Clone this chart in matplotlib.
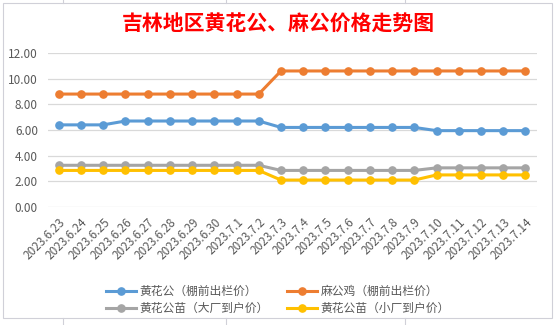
import matplotlib.pyplot as plt
from matplotlib.lines import Line2D
from matplotlib.patches import Rectangle

plt.rcParams['font.family'] = ['Noto Sans CJK SC', 'DejaVu Sans']

# 日期
dates = ['2023.6.23', '2023.6.24', '2023.6.25', '2023.6.26', '2023.6.27', '2023.6.28',
         '2023.6.29', '2023.6.30', '2023.7.1', '2023.7.2', '2023.7.3', '2023.7.4',
         '2023.7.5', '2023.7.6', '2023.7.7', '2023.7.8', '2023.7.9', '2023.7.10',
         '2023.7.11', '2023.7.12', '2023.7.13', '2023.7.14']

# 价格数据
huang_chulan = [6.4, 6.4, 6.4, 6.7, 6.7, 6.7, 6.7, 6.7, 6.7, 6.7, 6.2,
                6.2, 6.2, 6.2, 6.2, 6.2, 6.2, 5.95, 5.95, 5.95, 5.95, 5.95]
ma_chulan = [8.8] * 10 + [10.6] * 12
miao_dachang = [3.25] * 10 + [2.85] * 7 + [3.05] * 5
miao_xiaochang = [2.85] * 10 + [2.1] * 7 + [2.5] * 5

names = ['黄花公（棚前出栏价）', '麻公鸡（棚前出栏价）',
         '黄花公苗（大厂到户价）', '黄花公苗（小厂到户价）']
colors = ['#5B9BD5', '#ED7D31', '#A5A5A5', '#FFC000']

fig = plt.figure(figsize=(5.55, 3.25), dpi=100)
W, H = 555, 325

# 图表边框和表格线
fig.add_artist(Rectangle((3 / W, 7 / H), 549 / W, 315 / H, transform=fig.transFigure,
                         fill=False, edgecolor='#D0D0D8', linewidth=0.8))
for gx in [63, 226, 405]:
    fig.add_artist(Line2D([gx / W, gx / W], [322 / H, 1], transform=fig.transFigure,
                          color='#D0D0D8', linewidth=0.8))
    fig.add_artist(Line2D([gx / W, gx / W], [0, 7 / H], transform=fig.transFigure,
                          color='#D0D0D8', linewidth=0.8))

ax = fig.add_axes([47.6 / W, 118 / H, 489 / W, 154 / H])
x = range(len(dates))
lines = []
for y, c, n in zip([huang_chulan, ma_chulan, miao_dachang, miao_xiaochang], colors, names):
    l, = ax.plot(x, y, color=c, linewidth=2.2, marker='o', markersize=5.2, label=n, zorder=3)
    lines.append(l)

ax.set_xlim(-0.5, len(dates) - 0.5)
ax.set_ylim(0, 12)
ax.set_yticks(range(0, 13, 2))
ax.set_yticklabels(['%.2f' % v for v in range(0, 13, 2)])
ax.set_xticks(list(x))
ax.set_xticklabels(dates, rotation=45, ha='right', va='top', rotation_mode='anchor')
ax.tick_params(length=0, labelsize=8.5, colors='#595959', pad=6)
ax.tick_params(axis='y', pad=7)
ax.grid(axis='y', color='#D9D9D9', linewidth=0.9)
for s in ax.spines.values():
    s.set_visible(False)
ax.set_axisbelow(True)

fig.text(278 / W, 1 - 24 / H, '吉林地区黄花公、麻公价格走势图', color='#FF0000',
         fontsize=15, fontweight='bold', ha='center', va='center')

# 图例按行排列
order = [0, 2, 1, 3]
fig.legend([lines[i] for i in order], [names[i] for i in order],
           loc='center', bbox_to_anchor=(278 / W, 1 - 300 / H), ncol=2, frameon=False,
           fontsize=8.5, handlelength=2.5, handletextpad=0.3, columnspacing=1.6,
           labelspacing=0.35, labelcolor='#595959')

fig.savefig('out.png', dpi=100)
